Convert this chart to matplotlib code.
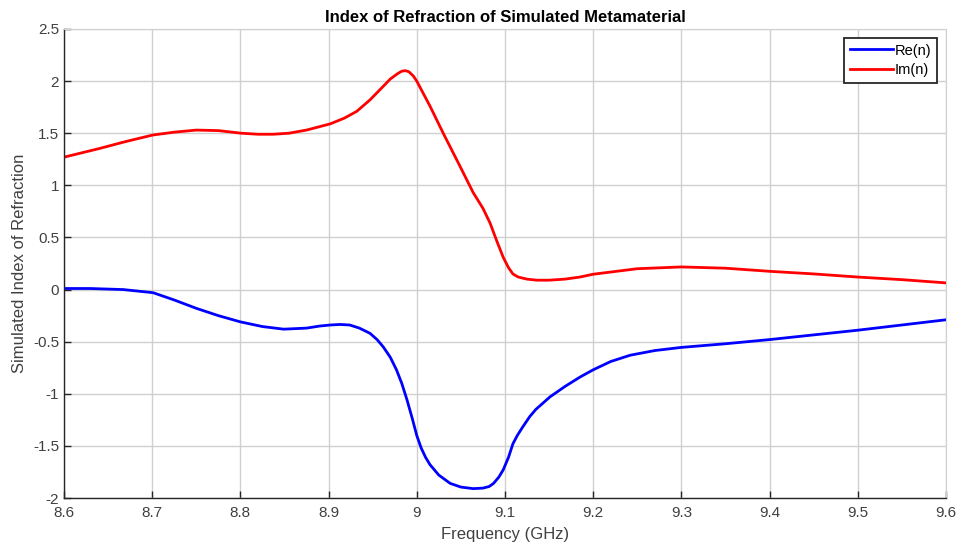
import matplotlib
matplotlib.use("Agg")
import matplotlib.pyplot as plt
from matplotlib.ticker import FormatStrFormatter

plt.rcParams["font.family"] = ["Liberation Sans", "DejaVu Sans"]
plt.rcParams["axes.unicode_minus"] = False

# values
freq_re = [8.600, 8.630, 8.667, 8.701, 8.725, 8.750, 8.775, 8.800, 8.825, 8.849,
           8.875, 8.890, 8.902, 8.913, 8.924, 8.935, 8.947, 8.955, 8.962, 8.970,
           8.977, 8.983, 8.989, 8.995, 9.000, 9.005, 9.010, 9.015, 9.025, 9.038,
           9.050, 9.064, 9.075, 9.082, 9.087, 9.093, 9.098, 9.104, 9.109, 9.114,
           9.120, 9.128, 9.135, 9.151, 9.168, 9.185, 9.200, 9.220, 9.242, 9.270,
           9.300, 9.350, 9.400, 9.450, 9.500, 9.550, 9.600]
re_n = [0.01, 0.01, 0.00, -0.03, -0.10, -0.18, -0.25, -0.31, -0.355, -0.38,
        -0.37, -0.35, -0.34, -0.335, -0.34, -0.37, -0.42, -0.48, -0.55, -0.65,
        -0.77, -0.90, -1.06, -1.24, -1.40, -1.52, -1.61, -1.68, -1.78, -1.86,
        -1.895, -1.91, -1.905, -1.89, -1.86, -1.80, -1.73, -1.61, -1.48, -1.40,
        -1.32, -1.22, -1.15, -1.03, -0.93, -0.84, -0.77, -0.69, -0.63, -0.585,
        -0.555, -0.52, -0.48, -0.435, -0.39, -0.34, -0.29]

freq_im = [8.600, 8.641, 8.670, 8.701, 8.725, 8.750, 8.775, 8.801, 8.820, 8.837,
           8.855, 8.875, 8.902, 8.918, 8.932, 8.947, 8.962, 8.970, 8.978, 8.983,
           8.987, 8.991, 8.996, 9.000, 9.015, 9.030, 9.048, 9.064, 9.075, 9.083,
           9.091, 9.098, 9.104, 9.109, 9.115, 9.125, 9.136, 9.150, 9.168, 9.185,
           9.200, 9.250, 9.300, 9.350, 9.400, 9.450, 9.500, 9.550, 9.600]
im_n = [1.27, 1.355, 1.42, 1.483, 1.51, 1.53, 1.525, 1.50, 1.49, 1.49,
        1.50, 1.53, 1.59, 1.645, 1.71, 1.82, 1.95, 2.02, 2.07, 2.095,
        2.10, 2.09, 2.05, 2.00, 1.76, 1.50, 1.20, 0.93, 0.78, 0.64,
        0.46, 0.31, 0.21, 0.15, 0.12, 0.10, 0.09, 0.09, 0.10, 0.12,
        0.147, 0.20, 0.217, 0.205, 0.175, 0.15, 0.12, 0.095, 0.064]

x_ticks = [8.6, 8.7, 8.8, 8.9, 9.0, 9.1, 9.2, 9.3, 9.4, 9.5, 9.6]
y_ticks = [-2, -1.5, -1, -0.5, 0, 0.5, 1, 1.5, 2, 2.5]

fig = plt.figure(figsize=(9.59, 5.52), dpi=100)
ax = fig.add_axes([0.0667, 0.0978, 0.9197, 0.8497])

ax.plot(freq_re, re_n, color="#0000ff", lw=2.0, label="Re(n)")
ax.plot(freq_im, im_n, color="#ff0000", lw=2.0, label="Im(n)")

ax.set_xlim(8.6, 9.6)
ax.set_ylim(-2, 2.5)
ax.set_xticks(x_ticks)
ax.set_yticks(y_ticks)
ax.xaxis.set_major_formatter(FormatStrFormatter("%g"))
ax.yaxis.set_major_formatter(FormatStrFormatter("%g"))
ax.grid(True, color="#d0d0d0", lw=1.0)
ax.set_axisbelow(True)

for side in ["top", "right"]:
    ax.spines[side].set_color("#d0d0d0")
for side in ["left", "bottom"]:
    ax.spines[side].set_color("#262626")
    ax.spines[side].set_linewidth(1.0)
ax.tick_params(direction="in", length=5, width=1.0, colors="#262626",
               labelsize=11, labelcolor="#404040")
ax.tick_params(axis="x", pad=6)

ax.set_title("Index of Refraction of Simulated Metamaterial",
             fontsize=12, fontweight="bold", pad=5)
ax.set_xlabel("Frequency (GHz)", fontsize=12, color="#404040", labelpad=5)
ax.set_ylabel("Simulated Index of Refraction", fontsize=12, color="#404040", labelpad=4)

leg = ax.legend(loc="upper right", fontsize=10.5, fancybox=False, framealpha=1,
                edgecolor="#262626", handlelength=3.0, handletextpad=0.1,
                borderpad=0.4, labelspacing=0.35, borderaxespad=0.6)
leg.get_frame().set_linewidth(1.3)

fig.savefig("out.png", dpi=100)
